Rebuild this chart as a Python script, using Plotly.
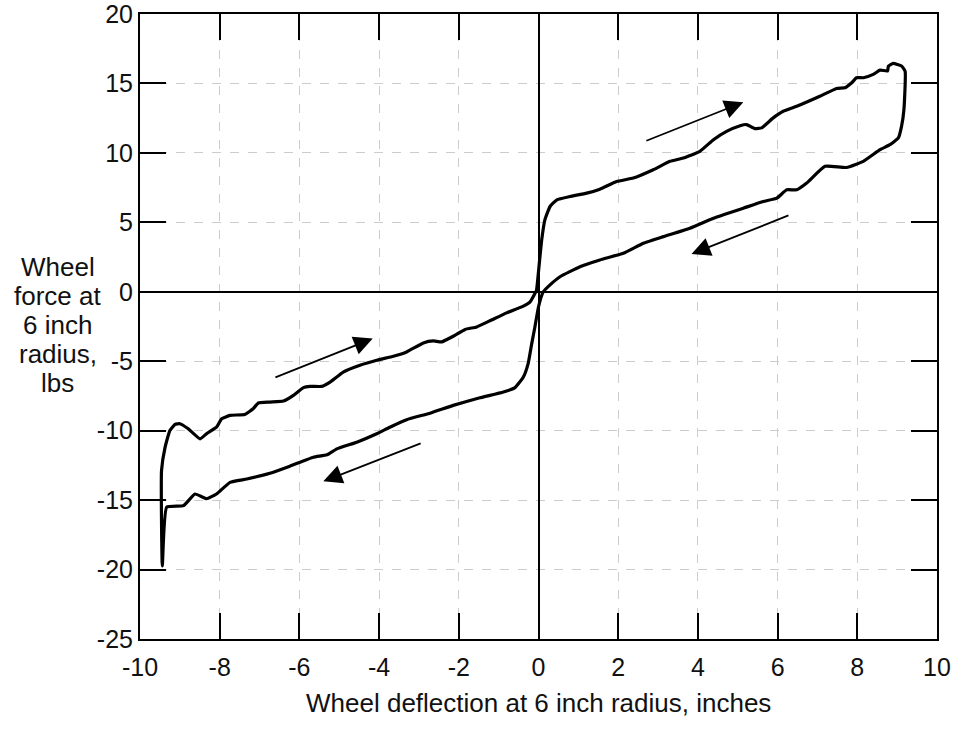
import plotly.graph_objects as go

# Loading branch (moving right, upper path)
load_x = [-9.44, -9.46, -9.37, -9.25, -9.12, -9.0, -8.79, -8.49, -8.33, -8.08, -7.95, -7.74, -7.37, -7.16,
          -7.03, -6.74, -6.4, -6.15, -5.9, -5.73, -5.44, -5.23, -4.9, -4.48, -4.06, -3.64, -3.31, -2.89,
          -2.64, -2.43, -2.14, -1.84, -1.55, -1.22, -0.8, -0.38, -0.21, -0.09, -0.05, 0.02, 0.08, 0.16,
          0.29, 0.46, 0.79, 1.21, 1.54, 1.96, 2.38, 2.88, 3.3, 3.63, 4.05, 4.39, 4.72, 5.06, 5.22, 5.43,
          5.6, 5.89, 6.14, 6.48, 7.06, 7.48, 7.69, 7.86, 7.98, 8.15, 8.4, 8.57, 8.76, 8.78, 8.9, 9.11, 9.2]
load_y = [-19.73, -12.87, -11.19, -9.99, -9.55, -9.5, -9.86, -10.59, -10.22, -9.75, -9.14, -8.9, -8.83, -8.42,
          -8.01, -7.94, -7.87, -7.46, -6.9, -6.81, -6.81, -6.5, -5.78, -5.29, -4.93, -4.64, -4.33, -3.68,
          -3.54, -3.61, -3.2, -2.71, -2.53, -2.09, -1.52, -1.03, -0.72, -0.12, 0.12, 2.05, 3.73, 5.18,
          6.14, 6.62, 6.86, 7.1, 7.39, 7.94, 8.19, 8.79, 9.39, 9.63, 10.11, 10.95, 11.55, 11.96, 12.04, 11.75,
          11.8, 12.52, 13.0, 13.36, 14.08, 14.64, 14.69, 15.05, 15.41, 15.41, 15.65, 15.96, 15.9, 16.25, 16.44, 16.25, 15.88]

# Unloading branch (moving left, lower path)
unload_x = [9.17, 9.11, 9.03, 8.82, 8.57, 8.15, 7.73, 7.19, 6.73, 6.48, 6.23, 5.98, 5.64, 5.14, 4.64, 4.39,
            3.8, 3.13, 2.63, 2.13, 1.54, 1.04, 0.54, 0.29, 0.12, 0.0, -0.09, -0.17, -0.26, -0.38, -0.59,
            -0.88, -1.47, -2.14, -2.72, -3.31, -3.73, -4.06, -4.56, -5.06, -5.31, -5.65, -6.24, -6.74,
            -7.32, -7.74, -8.08, -8.33, -8.62, -8.91, -9.33, -9.44]
unload_y = [13.12, 11.91, 11.08, 10.59, 10.23, 9.39, 8.95, 9.03, 7.83, 7.34, 7.34, 6.74, 6.5, 6.02, 5.54, 5.3,
            4.58, 3.97, 3.49, 2.77, 2.29, 1.8, 1.08, 0.5, 0.0, -1.08, -2.53, -3.73, -5.17, -6.14, -6.9,
            -7.22, -7.63, -8.18, -8.74, -9.21, -9.75, -10.22, -10.83, -11.31, -11.74, -11.91, -12.56, -13.07,
            -13.48, -13.72, -14.56, -14.9, -14.56, -15.4, -15.5, -19.73]

# Direction arrows: (tail_x, tail_y, head_x, head_y)
arrow_tail_x = [2.67, 6.31, -6.64, -2.92]
arrow_tail_y = [10.83, 5.54, -6.21, -10.87]
arrow_head_x = [5.14, 3.84, -4.16, -5.40]
arrow_head_y = [13.65, 2.72, -3.37, -13.65]

x_ticks = [-10, -8, -6, -4, -2, 0, 2, 4, 6, 8, 10]
x_tick_labels = ["-10", "-8", "-6", "-4", "-2", "0", "2", "4", "6", "8", "10"]
y_ticks = [-25, -20, -15, -10, -5, 0, 5, 10, 15, 20]
y_tick_labels = ["-25", "-20", "-15", "-10", "-5", "0", "5", "10", "15", "20"]
x_title = "Wheel deflection at 6 inch radius, inches"
y_title_lines = ["Wheel", "force at", "6 inch", "radius,", "lbs"]
y_title_pos = [1.78, -0.31, -2.40, -4.49, -6.58]

FONT = "Liberation Sans, Arial, Helvetica, sans-serif"

fig = go.Figure()
fig.add_trace(go.Scatter(
    x=load_x + unload_x, y=load_y + unload_y, mode="lines",
    line=dict(color="black", width=3.2, shape="spline", smoothing=0.4),
    showlegend=False, hoverinfo="skip"))

for tx, ty, hx, hy in zip(arrow_tail_x, arrow_tail_y, arrow_head_x, arrow_head_y):
    fig.add_annotation(x=hx, y=hy, ax=tx, ay=ty, xref="x", yref="y", axref="x", ayref="y",
                       text="", showarrow=True, arrowhead=2, arrowsize=2.1, arrowwidth=1.8,
                       arrowcolor="black", standoff=0, startstandoff=0)

for line, yp in zip(y_title_lines, y_title_pos):
    fig.add_annotation(x=-0.1035, y=yp, xref="paper", yref="y", text=line, showarrow=False,
                       xanchor="center", yanchor="middle",
                       font=dict(family=FONT, size=26, color="#111"))

fig.add_annotation(x=0.5, y=-0.1024, xref="paper", yref="paper", text=x_title, showarrow=False,
                   xanchor="center", yanchor="middle", font=dict(family=FONT, size=26, color="#111"))

axis_common = dict(
    ticks="inside", ticklen=26, tickwidth=2, tickcolor="black",
    showline=True, linewidth=2, linecolor="black", mirror="ticks",
    showgrid=True, gridcolor="#cccccc", griddash="dash", gridwidth=1,
    zeroline=True, zerolinecolor="black", zerolinewidth=2,
    tickfont=dict(family=FONT, size=25, color="#111"),
    automargin=False, ticklabeloverflow="allow",
)
fig.update_xaxes(range=[-10, 10], tickvals=x_ticks, ticktext=x_tick_labels, ticklabelstandoff=5, **axis_common)
fig.update_yaxes(range=[-25, 20], tickvals=y_ticks, ticktext=y_tick_labels, ticklabelstandoff=0, **axis_common)

fig.update_layout(
    width=956, height=730,
    margin=dict(l=140, r=19, t=14, b=91, autoexpand=False),
    plot_bgcolor="white", paper_bgcolor="white",
    font=dict(family=FONT, color="#111"),
)

fig.write_html("out.html")
